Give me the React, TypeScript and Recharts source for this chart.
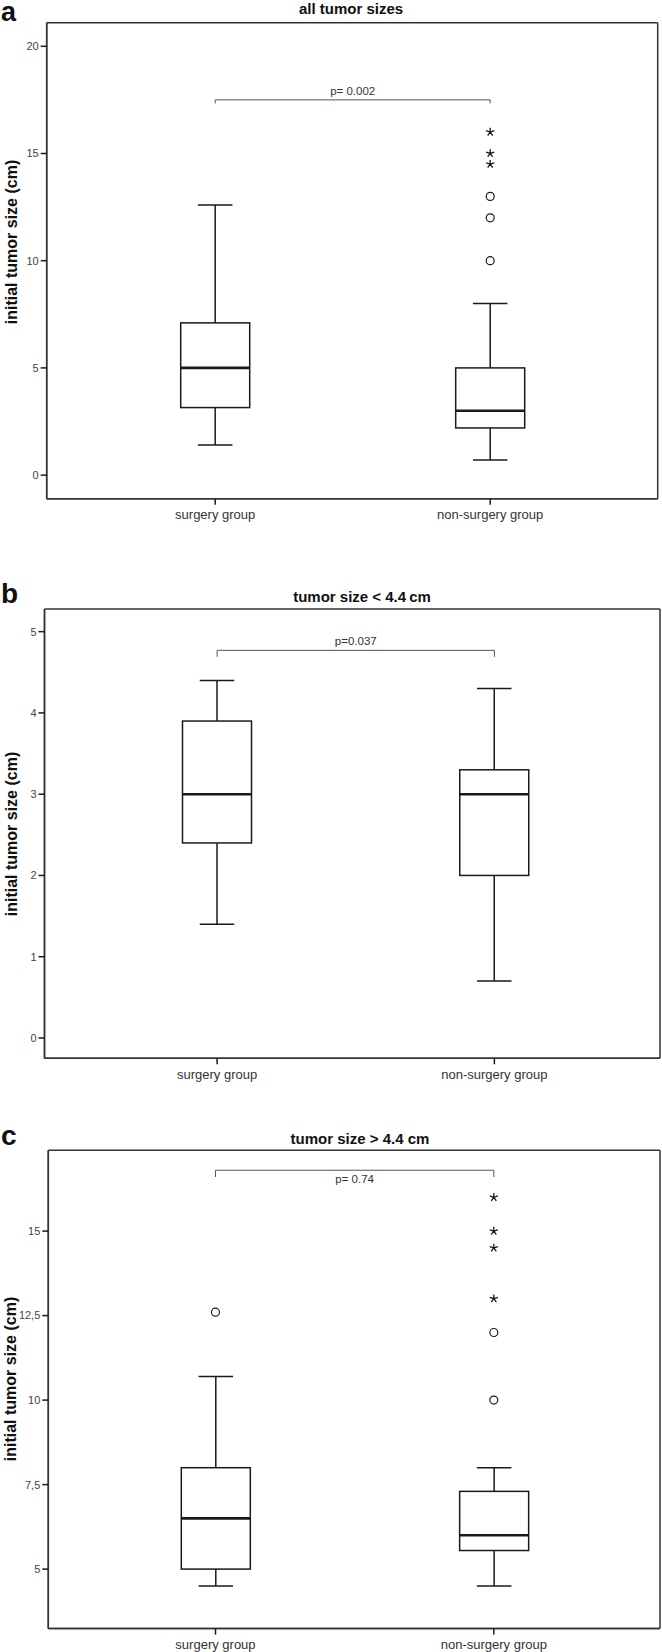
import React from "react";
import { Bar, CartesianGrid, ComposedChart, ReferenceLine, Scatter, XAxis, YAxis } from "recharts";

const FONT = "'Liberation Sans', Arial, Helvetica, sans-serif";
const INK = "#1a1a1a";
const FRAME = "#333";

const groups = ["surgery group", "non-surgery group"];

// panel a: all tumor sizes (cm), [surgery, non-surgery]
const allLow = [1.4, 0.7];
const allQ1 = [3.15, 2.2];
const allMedian = [5.0, 3.0];
const allQ3 = [7.1, 5.0];
const allHigh = [12.6, 8.0];
const allCircles = [13, 12, 10]; // non-surgery
const allStars = [16, 15, 14.5]; // non-surgery
const allTicks = [0, 5, 10, 15, 20];

// panel b: tumor size < 4.4 cm
const smallLow = [1.4, 0.7];
const smallQ1 = [2.4, 2.0];
const smallMedian = [3.0, 3.0];
const smallQ3 = [3.9, 3.3];
const smallHigh = [4.4, 4.3];
const smallTicks = [0, 1, 2, 3, 4, 5];

// panel c: tumor size > 4.4 cm
const largeLow = [4.5, 4.5];
const largeQ1 = [5.0, 5.55];
const largeMedian = [6.5, 6.0];
const largeQ3 = [8.0, 7.3];
const largeHigh = [10.7, 8.0];
const largeSurgeryCircles = [12.6];
const largeCircles = [12, 10]; // non-surgery
const largeStars = [16, 15, 14.5, 13]; // non-surgery
const largeTicks = [5, 7.5, 10, 12.5, 15];

type BoxRow = { group: string; low: number; q1: number; median: number; q3: number; high: number };
type Outlier = { group: string; value: number; kind: "circle" | "star" };

function makeRows(low: number[], q1: number[], median: number[], q3: number[], high: number[]): BoxRow[] {
  return groups.map((group, i) => ({ group, low: low[i], q1: q1[i], median: median[i], q3: q3[i], high: high[i] }));
}

function makeOutliers(group: string, values: number[], kind: "circle" | "star"): Outlier[] {
  return values.map((value) => ({ group, value, kind }));
}

// whisker range is the bar; box and median are placed on the same pixel mapping
function BoxShape(props: any) {
  const { x, y, width, height, payload } = props;
  const { low, q1, median, q3, high } = payload as BoxRow;
  const py = (v: number) => y + ((high - v) / (high - low)) * height;
  const cx = x + width / 2;
  const cap = width / 4;
  return (
    <g>
      <line x1={cx} x2={cx} y1={py(high)} y2={py(q3)} stroke={INK} strokeWidth={1.5} />
      <line x1={cx} x2={cx} y1={py(q1)} y2={py(low)} stroke={INK} strokeWidth={1.5} />
      <line x1={cx - cap} x2={cx + cap} y1={py(high)} y2={py(high)} stroke={INK} strokeWidth={1.5} />
      <line x1={cx - cap} x2={cx + cap} y1={py(low)} y2={py(low)} stroke={INK} strokeWidth={1.5} />
      <rect x={x} y={py(q3)} width={width} height={py(q1) - py(q3)} fill="#fff" stroke={INK} strokeWidth={1.5} />
      <line x1={x} x2={x + width} y1={py(median)} y2={py(median)} stroke={INK} strokeWidth={2.6} />
    </g>
  );
}

function OutlierShape(props: any) {
  const { cx, cy, payload } = props;
  if (payload.kind === "star") {
    const arms = [0, 1, 2, 3, 4].map((k) => {
      const a = (-90 + k * 72) * (Math.PI / 180);
      return `M${cx},${cy}L${cx + 4.3 * Math.cos(a)},${cy + 4.3 * Math.sin(a)}`;
    });
    return <path d={arms.join("")} stroke={INK} strokeWidth={1.3} fill="none" />;
  }
  return <circle cx={cx} cy={cy} r={4} fill="none" stroke={INK} strokeWidth={1.2} />;
}

// frame: one line on each edge of the plot area
const frameRows = ({ offset }: any) => [offset.top, offset.top + offset.height];
const frameCols = ({ offset }: any) => [offset.left, offset.left + offset.width];

interface PanelProps {
  top: number;
  height: number;
  margin: { top: number; right: number; bottom: number; left: number };
  xPadding: { left: number; right: number };
  axisHeight: number;
  domain: [number, number];
  ticks: number[];
  tickFormat?: (v: number) => string;
  rows: BoxRow[];
  outliers: Outlier[];
  bracketY: number;
  bracketDrop: number;
  pLabel: string;
  pLabelPos: "top" | "bottom";
}

function BoxPanel(p: PanelProps) {
  const [g0, g1] = groups;
  const ends = p.bracketY - p.bracketDrop;
  return (
    <div style={{ position: "absolute", left: 0, top: p.top, width: 662, height: p.height }}>
      <ComposedChart width={662} height={p.height} data={p.rows} margin={p.margin}>
        <CartesianGrid
          stroke={FRAME}
          strokeWidth={1.5}
          horizontalCoordinatesGenerator={frameRows}
          verticalCoordinatesGenerator={frameCols}
        />
        <XAxis
          dataKey="group"
          type="category"
          allowDuplicatedCategory={false}
          padding={p.xPadding}
          height={p.axisHeight}
          interval={0}
          tickSize={6}
          tickMargin={5}
          tickLine={{ stroke: INK, strokeWidth: 1.5 }}
          axisLine={{ stroke: FRAME, strokeWidth: 1.5 }}
          tick={{ fontSize: 13, fill: "#333", fontFamily: FONT }}
        />
        <YAxis
          type="number"
          domain={p.domain}
          ticks={p.ticks}
          allowDataOverflow
          width={40}
          tickSize={6}
          tickMargin={2}
          tickFormatter={p.tickFormat}
          tickLine={{ stroke: INK, strokeWidth: 1.5 }}
          axisLine={{ stroke: FRAME, strokeWidth: 1.5 }}
          tick={{ fontSize: 11, fill: "#444", fontFamily: FONT }}
        />
        <Bar dataKey={(d: BoxRow) => [d.low, d.high]} barSize={69} shape={BoxShape} isAnimationActive={false} />
        {p.outliers.length > 0 && (
          <Scatter data={p.outliers} dataKey="value" shape={OutlierShape} isAnimationActive={false} />
        )}
        <ReferenceLine
          segment={[{ x: g0, y: p.bracketY }, { x: g1, y: p.bracketY }]}
          stroke="#555"
          strokeWidth={1}
          label={{ value: p.pLabel, position: p.pLabelPos, offset: 5, fontSize: 11.5, fill: "#333", fontFamily: FONT }}
        />
        <ReferenceLine segment={[{ x: g0, y: p.bracketY }, { x: g0, y: ends }]} stroke="#555" strokeWidth={1} />
        <ReferenceLine segment={[{ x: g1, y: p.bracketY }, { x: g1, y: ends }]} stroke="#555" strokeWidth={1} />
      </ComposedChart>
    </div>
  );
}

export default function App() {
  const commaTick = (v: number) => String(v).replace(".", ",");
  return (
    <div style={{ position: "absolute", left: 0, top: 0, width: 662, height: 1652, background: "#fff", fontFamily: FONT }}>
      <BoxPanel
        top={0}
        height={530}
        margin={{ top: 22.7, right: 4.3, bottom: 1.3, left: 6.7 }}
        xPadding={{ left: 31, right: 30 }}
        axisHeight={30}
        domain={[-1.1, 21.1]}
        ticks={allTicks}
        rows={makeRows(allLow, allQ1, allMedian, allQ3, allHigh)}
        outliers={[...makeOutliers(groups[1], allCircles, "circle"), ...makeOutliers(groups[1], allStars, "star")]}
        bracketY={17.5}
        bracketDrop={0.16}
        pLabel="p= 0.002"
        pLabelPos="top"
      />
      <BoxPanel
        top={560}
        height={530}
        margin={{ top: 48.9, right: 2, bottom: 1.7, left: 4.5 }}
        xPadding={{ left: 34, right: 27 }}
        axisHeight={30}
        domain={[-0.25, 5.28]}
        ticks={smallTicks}
        rows={makeRows(smallLow, smallQ1, smallMedian, smallQ3, smallHigh)}
        outliers={[]}
        bracketY={4.77}
        bracketDrop={0.08}
        pLabel="p=0.037"
        pLabelPos="top"
      />
      <BoxPanel
        top={1100}
        height={552}
        margin={{ top: 50.3, right: 2, bottom: 0, left: 8.3 }}
        xPadding={{ left: 28, right: 27 }}
        axisHeight={23.4}
        domain={[3.24, 17.39]}
        ticks={largeTicks}
        tickFormat={commaTick}
        rows={makeRows(largeLow, largeQ1, largeMedian, largeQ3, largeHigh)}
        outliers={[
          ...makeOutliers(groups[0], largeSurgeryCircles, "circle"),
          ...makeOutliers(groups[1], largeStars, "star"),
          ...makeOutliers(groups[1], largeCircles, "circle"),
        ]}
        bracketY={16.8}
        bracketDrop={0.2}
        pLabel="p= 0.74"
        pLabelPos="bottom"
      />
      <svg width={662} height={1652} style={{ position: "absolute", left: 0, top: 0, pointerEvents: "none" }}>
        <g fontFamily={FONT} fontWeight="bold" fill="#111">
          <text x={1} y={21} fontSize={27}>a</text>
          <text x={1} y={603} fontSize={28}>b</text>
          <text x={1} y={1145} fontSize={28}>c</text>
          <text x={351} y={14} fontSize={15} textAnchor="middle">all tumor sizes</text>
          <text x={362} y={601.5} fontSize={15} textAnchor="middle">{"tumor size < 4.4\u2009cm"}</text>
          <text x={360} y={1144} fontSize={15} textAnchor="middle">{"tumor size > 4.4 cm"}</text>
          <text transform="translate(16.5,242) rotate(-90)" fontSize={16} textAnchor="middle">initial tumor size (cm)</text>
          <text transform="translate(17,834) rotate(-90)" fontSize={16} textAnchor="middle">initial tumor size (cm)</text>
          <text transform="translate(16,1379) rotate(-90)" fontSize={16} textAnchor="middle">initial tumor size (cm)</text>
        </g>
      </svg>
    </div>
  );
}
